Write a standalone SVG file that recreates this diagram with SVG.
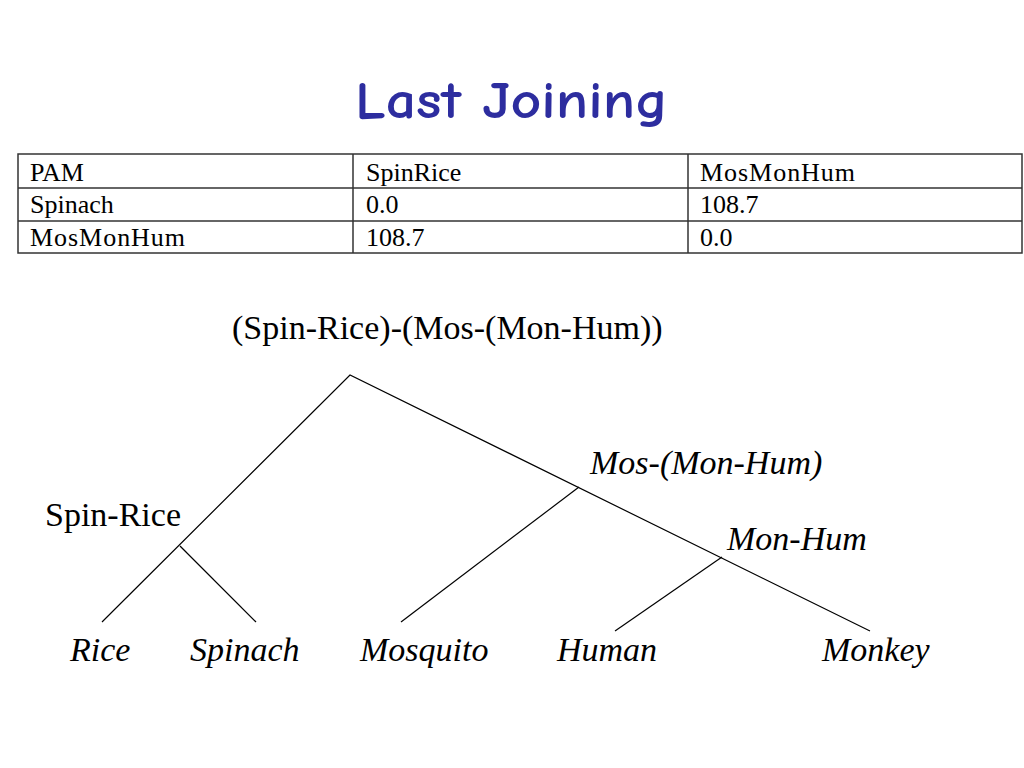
<svg xmlns="http://www.w3.org/2000/svg" width="1024" height="768" viewBox="0 0 1024 768">
<style>
.title{font-family:"Comic Sans MS","Comic Neue","DejaVu Sans",sans-serif;font-weight:bold;font-size:52px;fill:#2d2d9f}
.cell{font-family:'Liberation Serif',Tinos,'Times New Roman','DejaVu Serif',serif;font-size:26px;fill:#000}
.lbl{font-family:'Liberation Serif',Tinos,'Times New Roman','DejaVu Serif',serif;font-size:34px;fill:#000}
.it{font-style:italic}
.grid{stroke:#333;stroke-width:1.5;fill:none}
.edge{stroke:#000;stroke-width:1.2;fill:none}
</style>
<rect width="1024" height="768" fill="#fff"/>
<text class="title" x="355" y="118" textLength="313" lengthAdjust="spacingAndGlyphs">Last Joining</text>
<g id="table">
<rect class="grid" x="18" y="154" width="1004" height="99"/>
<line class="grid" x1="18" y1="188" x2="1022" y2="188"/>
<line class="grid" x1="18" y1="221" x2="1022" y2="221"/>
<line class="grid" x1="353" y1="154" x2="353" y2="253"/>
<line class="grid" x1="688" y1="154" x2="688" y2="253"/>
<text class="cell" x="30" y="181">PAM</text>
<text class="cell" x="366" y="181">SpinRice</text>
<text class="cell" x="700" y="181" textLength="155">MosMonHum</text>
<text class="cell" x="30" y="213">Spinach</text>
<text class="cell" x="366" y="213">0.0</text>
<text class="cell" x="700" y="213">108.7</text>
<text class="cell" x="30" y="246" textLength="155">MosMonHum</text>
<text class="cell" x="366" y="246">108.7</text>
<text class="cell" x="700" y="246">0.0</text>
</g>
<g id="connectors">
<polyline class="edge" points="102,622 350,375 870,631"/>
<line class="edge" x1="180" y1="546" x2="256" y2="622"/>
<line class="edge" x1="579" y1="487" x2="401" y2="622"/>
<line class="edge" x1="722" y1="557" x2="615" y2="631"/>
</g>
<g id="node-root"><text class="lbl" x="232" y="339">(Spin-Rice)-(Mos-(Mon-Hum))</text></g>
<g id="node-spinrice"><text class="lbl" x="45" y="526">Spin-Rice</text></g>
<g id="node-mosmonhum"><text class="lbl it" x="590" y="474">Mos-(Mon-Hum)</text></g>
<g id="node-monhum"><text class="lbl it" x="727" y="550">Mon-Hum</text></g>
<g id="node-rice"><text class="lbl it" x="70" y="661">Rice</text></g>
<g id="node-spinach"><text class="lbl it" x="190" y="661">Spinach</text></g>
<g id="node-mosquito"><text class="lbl it" x="360" y="661">Mosquito</text></g>
<g id="node-human"><text class="lbl it" x="557" y="661">Human</text></g>
<g id="node-monkey"><text class="lbl it" x="822" y="661">Monkey</text></g>
</svg>
